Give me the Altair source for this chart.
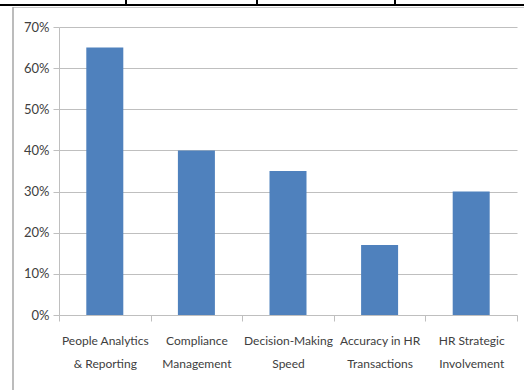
import altair as alt
import pandas as pd

# Survey results: share of respondents reporting improvement per HR area
categories = [
    "People Analytics|& Reporting",
    "Compliance|Management",
    "Decision-Making|Speed",
    "Accuracy in HR|Transactions",
    "HR Strategic|Involvement",
]
values = [0.65, 0.40, 0.35, 0.17, 0.30]

df = pd.DataFrame({"category": categories, "value": values})

FONT = "Lato"
TEXT = "#404040"
GRID = "#BFBFBF"

W, H = 458, 288
PAD_L, PAD_T = 59, 27

bars = alt.Chart(df).mark_bar(color="#4F81BD", size=37).encode(
    x=alt.X(
        "category:N",
        sort=categories,
        title=None,
        scale=alt.Scale(paddingInner=0, paddingOuter=0),
        axis=alt.Axis(
            labelExpr="split(datum.label, '|')",
            labelAngle=0,
            labelFont=FONT,
            labelFontSize=12,
            labelColor=TEXT,
            labelLineHeight=23,
            labelPadding=14,
            tickBand="extent",
            tickSize=6,
            tickColor=GRID,
            domainColor=GRID,
            grid=False,
        ),
    ),
    y=alt.Y(
        "value:Q",
        title=None,
        scale=alt.Scale(domain=[0, 0.7], nice=False),
        axis=alt.Axis(
            values=[0, 0.1, 0.2, 0.3, 0.4, 0.5, 0.6, 0.7],
            format=".0%",
            labelFont=FONT,
            labelFontSize=13,
            labelColor=TEXT,
            labelPadding=4,
            tickSize=6,
            tickColor=GRID,
            domainColor=GRID,
            gridColor=GRID,
            gridWidth=1,
        ),
    ),
)

one = alt.Data(values=[{}])

# Frame pieces around the chart: table border on top, left chart border
top_line = alt.Chart(one).mark_rule(color="black", strokeWidth=2).encode(
    x=alt.value(-PAD_L), x2=alt.value(524 - PAD_L), y=alt.value(5 - PAD_T)
)
top_shadow = alt.Chart(one).mark_rule(color="#C8C8C8", strokeWidth=1).encode(
    x=alt.value(13 - PAD_L), x2=alt.value(524 - PAD_L), y=alt.value(7.5 - PAD_T)
)
left_line = alt.Chart(one).mark_rule(color="#A6A6A6", strokeWidth=1.5).encode(
    x=alt.value(13 - PAD_L), y=alt.value(7 - PAD_T), y2=alt.value(390 - PAD_T)
)
cell_ticks = alt.Chart(
    alt.Data(values=[{"x": 126 - PAD_L}, {"x": 257 - PAD_L}, {"x": 395 - PAD_L}])
).mark_rule(color="black", strokeWidth=2).encode(
    x=alt.X("x:Q", scale=None), y=alt.value(-PAD_T), y2=alt.value(5 - PAD_T)
)

chart = (
    alt.layer(bars, top_shadow, top_line, left_line, cell_ticks)
    .properties(
        width=W,
        height=H,
        autosize=alt.AutoSizeParams(type="none"),
        padding={"left": PAD_L, "top": PAD_T, "right": 524 - PAD_L - W, "bottom": 390 - PAD_T - H},
        background="white",
    )
    .configure_view(stroke=None)
)

chart.save("out.html", embed_options={"renderer": "svg", "actions": False})
